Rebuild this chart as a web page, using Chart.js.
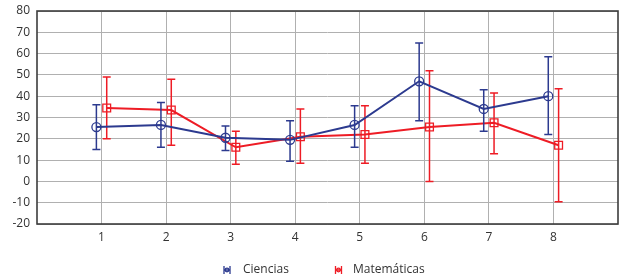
<!DOCTYPE html>
<html>
<head>
<meta charset="utf-8">
<script src="https://cdn.jsdelivr.net/npm/chart.js@4"></script>
<style>
html,body{margin:0;padding:0;background:#fff;}
#wrap{width:631px;height:279px;position:relative;}
</style>
</head>
<body>
<div id="wrap"><canvas id="c" width="631" height="279"></canvas></div>
<script>
const categories = [1, 2, 3, 4, 5, 6, 7, 8];
const seriesNames = ['Ciencias', 'Matemáticas'];
const cienciasMean = [25.5, 26.5, 20.5, 19.5, 26.5, 47, 34, 40];
const cienciasLow  = [15, 16, 14.5, 9.5, 16, 28.5, 23.5, 22];
const cienciasHigh = [36, 37, 26, 28.5, 35.5, 65, 43, 58.5];
const matMean = [34.5, 33.5, 16, 21, 22, 25.5, 27.5, 17];
const matLow  = [20, 17, 8, 8.5, 8.5, 0, 13, -9.5];
const matHigh = [49, 48, 23.5, 34, 35.5, 52, 41.5, 43.5];
const yTicks = [-20, -10, 0, 10, 20, 30, 40, 50, 60, 70, 80];

const BLUE = '#2c3a8f';
const RED = '#ee1c25';
const OFFSET = 0.08;
const FONT = "'Open Sans', 'Liberation Sans', sans-serif";

function pts(mean, shift) {
  return categories.map((c, i) => ({ x: c + shift, y: mean[i] }));
}

const errorBars = {
  id: 'errorBars',
  afterDatasetDraw(chart, args) {
    const ds = chart.data.datasets[args.index];
    const ys = chart.scales.y;
    const ctx = chart.ctx;
    ctx.save();
    ctx.strokeStyle = ds.borderColor;
    ctx.lineWidth = 1.5;
    args.meta.data.forEach((p, i) => {
      const x = p.x;
      const y1 = ys.getPixelForValue(ds.errLow[i]);
      const y2 = ys.getPixelForValue(ds.errHigh[i]);
      ctx.beginPath();
      ctx.moveTo(x, y1); ctx.lineTo(x, y2);
      ctx.moveTo(x - 4, y1); ctx.lineTo(x + 4, y1);
      ctx.moveTo(x - 4, y2); ctx.lineTo(x + 4, y2);
      ctx.stroke();
    });
    ctx.restore();
  }
};

const frame = {
  id: 'frame',
  beforeDatasetsDraw(chart) {
    const a = chart.chartArea, ctx = chart.ctx;
    ctx.save();
    ctx.strokeStyle = '#3d3d3d';
    ctx.lineWidth = 1.6;
    ctx.strokeRect(a.left, a.top, a.right - a.left, a.bottom - a.top);
    ctx.restore();
  }
};

const customLegend = {
  id: 'customLegend',
  afterDraw(chart) {
    const ctx = chart.ctx;
    const y = 270;
    const items = [{ x: 227, tx: 243 }, { x: 338.5, tx: 353 }];
    ctx.save();
    ctx.font = "12px " + FONT;
    ctx.textBaseline = 'middle';
    ctx.textAlign = 'left';
    chart.data.datasets.forEach((ds, i) => {
      const it = items[i];
      ctx.strokeStyle = ds.borderColor;
      ctx.lineWidth = 1.3;
      ctx.beginPath();
      ctx.moveTo(it.x - 3, y - 4); ctx.lineTo(it.x - 3, y + 4);
      ctx.moveTo(it.x + 3, y - 4); ctx.lineTo(it.x + 3, y + 4);
      ctx.moveTo(it.x - 3, y); ctx.lineTo(it.x + 3, y);
      ctx.stroke();
      ctx.beginPath();
      ctx.arc(it.x, y, 1.8, 0, Math.PI * 2);
      ctx.stroke();
      ctx.fillStyle = '#333';
      ctx.fillText(ds.label, it.tx, y);
    });
    ctx.restore();
  }
};

new Chart(document.getElementById('c'), {
  type: 'line',
  data: {
    datasets: [
      {
        label: seriesNames[0],
        data: pts(cienciasMean, -OFFSET),
        errLow: cienciasLow, errHigh: cienciasHigh,
        borderColor: BLUE, backgroundColor: 'transparent',
        borderWidth: 2,
        pointStyle: 'circle', pointRadius: 4.5,
        pointBorderColor: BLUE, pointBackgroundColor: 'transparent', pointBorderWidth: 1.3,
        tension: 0
      },
      {
        label: seriesNames[1],
        data: pts(matMean, OFFSET),
        errLow: matLow, errHigh: matHigh,
        borderColor: RED, backgroundColor: 'transparent',
        borderWidth: 2,
        pointStyle: 'rect', pointRadius: 5.5,
        pointBorderColor: RED, pointBackgroundColor: 'transparent', pointBorderWidth: 1.3,
        tension: 0
      }
    ]
  },
  options: {
    responsive: false,
    animation: false,
    events: [],
    layout: { padding: { left: 0, right: 13, top: 11, bottom: 33 } },
    plugins: { legend: { display: false }, tooltip: { enabled: false } },
    scales: {
      x: {
        type: 'linear', min: 0, max: categories.length + 1,
        afterBuildTicks(axis) { axis.ticks = categories.map(v => ({ value: v })); },
        afterFit(axis) { axis.height = 22; },
        grid: { color: '#b0b0b0', lineWidth: 1, drawTicks: false },
        border: { display: false },
        ticks: { padding: 6, color: '#333', font: { family: FONT, size: 12 },
                 callback: v => String(v) }
      },
      y: {
        min: -20, max: 80,
        afterBuildTicks(axis) { axis.ticks = yTicks.map(v => ({ value: v })); },
        afterFit(axis) { axis.width = 37; axis.paddingTop = 0; axis.paddingBottom = 0; },
        grid: { color: '#b0b0b0', lineWidth: 1, drawTicks: false },
        border: { display: false },
        ticks: { padding: 7, color: '#333', font: { family: FONT, size: 12 } }
      }
    }
  },
  plugins: [frame, errorBars, customLegend]
});
</script>
</body>
</html>
